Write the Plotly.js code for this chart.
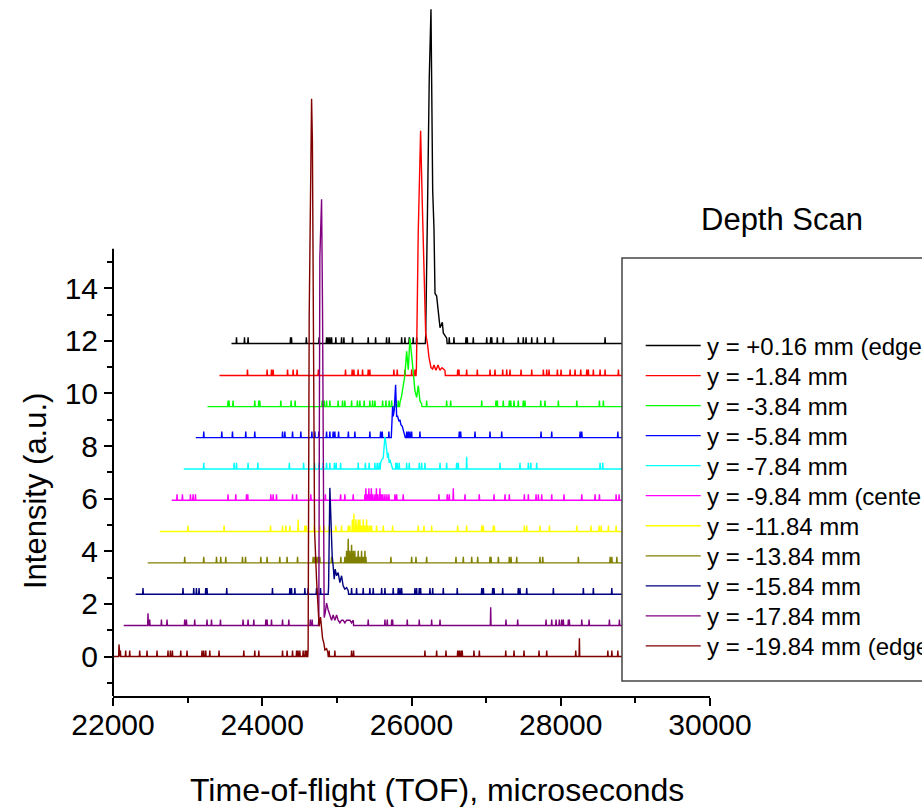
<!DOCTYPE html>
<html>
<head>
<meta charset="utf-8">
<script src="https://cdn.plot.ly/plotly-3.0.1.min.js"></script>
<style>html,body{margin:0;padding:0;background:#fff;}#chart{width:922px;height:807px;}</style>
</head>
<body>
<div id="chart"></div>
<script>
// ---------------- DATA ----------------
const labels = ["y = +0.16 mm (edge)", "y = -1.84 mm", "y = -3.84 mm", "y = -5.84 mm", "y = -7.84 mm",
  "y = -9.84 mm (center)", "y = -11.84 mm", "y = -13.84 mm", "y = -15.84 mm", "y = -17.84 mm", "y = -19.84 mm (edge)"];
// waterfall offsets (intensity units) and first TOF of each shifted spectrum
const yOffset = [11.9, 10.68, 9.5, 8.32, 7.13, 5.94, 4.75, 3.56, 2.37, 1.18, 0];
const startTOF = [23588, 23427, 23266, 23109, 22948, 22787, 22626, 22465, 22304, 22143, 22010];
const endTOF = 29300;
const oneCount = 0.23;

// single-count background events (TOF, microseconds, as plotted); repeats = more counts
const noise_p016 = [23655, 23762, 23810, 24379, 24392, 24591, 24762, 24862, 24883, 24906, 24929, 24986, 25063, 25094, 25210, 25420, 25519, 25666, 25701, 25868, 25912, 25970, 26023, 26069, 26506, 26569, 26730, 26747, 26828, 27008, 27061, 27075, 27150, 27230, 27431, 27498, 27535, 27611, 27686, 27789, 27901, 28594];
const noise_m184 = [23802, 24065, 24124, 24146, 24339, 24414, 24467, 24752, 25116, 25205, 25228, 25285, 25344, 25420, 25442, 25764, 25809, 25912, 26002, 26046, 26619, 26636, 26739, 26882, 27052, 27119, 27222, 27276, 27320, 27468, 27611, 27767, 27812, 27843, 27955, 28004, 28125, 28192, 28268, 28349, 28370, 28437, 28527, 28594, 28773];
const noise_m384 = [23542, 23555, 23609, 23900, 23954, 23967, 24249, 24387, 24441, 24803, 24830, 24862, 24906, 25017, 25076, 25107, 25197, 25275, 25308, 25366, 25442, 25479, 25510, 25613, 25657, 25701, 25734, 25778, 25822, 26203, 26471, 26525, 26941, 27132, 27150, 27230, 27311, 27330, 27374, 27431, 27498, 27521, 27732, 27789, 27968, 28215, 28518, 28571];
const noise_m584 = [23216, 23458, 23601, 23779, 23900, 24272, 24303, 24406, 24517, 24665, 24705, 24758, 24862, 24906, 24950, 24973, 25023, 25154, 25241, 25442, 25586, 25608, 25697, 25935, 25957, 25979, 26002, 26113, 26640, 26659, 26851, 27052, 27209, 27736, 27879, 28259, 28282, 28765];
const noise_m784 = [23216, 23623, 23655, 23810, 23941, 24363, 24554, 24701, 24761, 24816, 24862, 24906, 24967, 24991, 25050, 25286, 25382, 25433, 25510, 25540, 25567, 25791, 25809, 25836, 25935, 25970, 26104, 26136, 26180, 26382, 26471, 26605, 26627, 26739, 26739, 27186, 27454, 27566, 27598, 27678, 28527, 28563];
const noise_m984 = [22858, 22930, 23038, 23073, 23105, 23542, 23645, 23789, 23806, 24115, 24146, 24191, 24406, 24460, 24651, 24846, 25050, 25107, 25219,
  25376, 25389, 25389, 25409, 25429, 25429, 25442, 25462, 25462, 25483, 25510, 25530, 25530, 25550, 25577, 25577, 25597, 25617, 25644, 25671, 25698,
  25778, 25801, 25889, 26368, 26479, 26506, 26560, 26560, 26717, 26908, 27106, 27253, 27311, 27512, 27566, 27669, 27700, 27745, 27879, 28044, 28282, 28460, 28518, 28742, 28782];
const noise_m1184 = [23006, 23489, 24111, 24272, 24316, 24370, 24481, 24481, 24571, 24591, 24698, 24772, 24832, 24897, 24986, 25063,
  25152, 25174, 25208, 25208, 25228, 25228, 25228, 25255, 25255, 25268, 25286, 25286, 25308, 25308, 25329, 25353, 25353, 25376, 25398, 25398, 25416, 25442, 25465,
  25532, 25621, 25747, 26091, 26167, 26270, 26619, 26739, 26941, 26963, 27096, 27110, 27512, 27544, 27722, 27848, 28215, 28406, 28514, 28541, 28639, 28742];
const noise_m1384 = [22961, 23216, 23387, 23444, 23511, 23735, 23776, 23981, 24065, 24235, 24333, 24473, 24682, 24705, 24728, 24750, 24772, 24929, 25053,
  25107, 25130, 25130, 25152, 25152, 25152, 25152, 25174, 25174, 25197, 25197, 25197, 25219, 25219, 25241, 25241, 25264,
  25286, 25286, 25308, 25331, 25331, 25353, 25376, 25376, 25389,
  25724, 26002, 26060, 26203, 26596, 26694, 26807, 26887, 27052, 27066, 27164, 27311, 27334, 27410, 27722, 27759, 28236, 28662, 28685, 28752];
const noise_m1584 = [22402, 22938, 23082, 23118, 23153, 23243, 23260, 23524, 24137, 24370, 24392, 24437, 24571, 24615, 24727, 24781, 25197, 25264, 25353, 25442, 25487, 25600, 25644, 25755, 25822, 25845, 25868, 26046, 26069, 26104, 26122, 26247, 26284, 26426, 26613, 26941, 26963, 27088, 27106, 27222, 27431, 27454, 27544, 27901, 28303, 28437, 28684];
const noise_m1784 = [22469, 22469, 22480, 22492, 22649, 22724, 22961, 22984, 23095, 23260, 23320, 23440, 23743, 23810, 23887, 24048, 24065, 24124, 24272, 24356, 24644, 24669, 25420, 25644, 25675, 25734, 25747, 25943, 26104, 26270, 26382, 27061, 27061, 27061, 27266, 27423, 27803, 27879, 27937, 27981, 28013, 28035, 28102, 28115, 28282, 28380, 28652, 28786];
const noise_m1984 = [22080, 22080, 22099, 22170, 22224, 22358, 22456, 22590, 22737, 22769, 22796, 22908, 22992, 23193, 23216, 23243, 23297, 23421, 23753, 23900, 23954, 24272, 24333, 24406, 24460, 24481, 24504, 24548, 24575, 24594, 24897, 24973, 25197, 25224, 26180, 26337, 26462, 26619, 26640, 26663, 26680, 26837, 26909, 27263, 27374, 27508, 27709, 27812, 28201, 28250, 28250, 28250, 28631, 28685, 28765];

// main peak profiles: TOF (as plotted) and intensity above each trace's baseline
const peakTOF_p016 = [26190, 26214, 26225, 26238, 26261, 26284, 26301, 26315, 26337, 26359, 26382, 26413, 26426, 26449, 26472];
const peakInt_p016 = [0.3, 5.0, 8.6, 10.1, 12.7, 5.8, 4.4, 1.9, 1.8, 1.2, 0.6, 0.8, 0.4, 0.3, 0.2];
const peakTOF_m184 = [26066, 26090, 26106, 26122, 26144, 26167, 26190, 26214, 26234, 26261, 26284, 26301, 26328, 26355, 26381, 26408, 26448];
const peakInt_m184 = [0.3, 5.4, 7.5, 9.3, 6.6, 3.6, 1.6, 1.2, 0.7, 0.3, 0.25, 0.4, 0.2, 0.4, 0.2, 0.3, 0.2];
const peakTOF_m384 = [25845, 25867, 25889, 25912, 25935, 25957, 25979, 26002, 26024, 26046, 26069, 26091, 26113, 26136];
const peakInt_m384 = [0.15, 0.4, 0.8, 1.2, 2.1, 1.4, 2.6, 2.05, 1.3, 0.6, 0.35, 0.8, 0.22, 0.1];
const peakTOF_m584 = [25734, 25747, 25755, 25769, 25787, 25801, 25814, 25832, 25845, 25858, 25876, 25889, 25912];
const peakInt_m584 = [0.68, 1.19, 0.81, 1.06, 2.01, 0.81, 0.81, 0.62, 0.68, 0.49, 0.43, 0.3, 0.11];
const peakTOF_m784 = [25586, 25600, 25621, 25634, 25644, 25657, 25667, 25680, 25688, 25701, 25711, 25724, 25742];
const peakInt_m784 = [0.23, 0.35, 0.42, 0.86, 1.22, 0.99, 0.61, 0.42, 0.61, 0.23, 0.35, 0.23, 0.1];
const peakTOF_m984 = [];
const peakInt_m984 = [];
const peakTOF_m1184 = [];
const peakInt_m1184 = [];
const peakTOF_m1384 = [];
const peakInt_m1384 = [];
const peakTOF_m1584 = [24889, 24906, 24920, 24937, 24950, 24964, 24977, 24996, 25017, 25040, 25063, 25084, 25107, 25130, 25152];
const peakInt_m1584 = [0.3, 4.04, 2.47, 1.46, 1.08, 0.57, 0.95, 0.7, 0.82, 0.44, 0.7, 0.32, 0.19, 0.25, 0.13];
const peakTOF_m1784 = [24758, 24772, 24795, 24808, 24821, 24830, 24845, 24862, 24883, 24906, 24929, 24950, 24973, 24996, 25017, 25040, 25063, 25084, 25107, 25130, 25152, 25174, 25197, 25219];
const peakInt_m1784 = [0.3, 14.0, 16.2, 11.9, 3.0, 0.3, 0.5, 0.85, 0.6, 0.4, 0.2, 0.4, 0.2, 0.4, 0.2, 0.1, 0.2, 0.2, 0.1, 0.2, 0.2, 0.2, 0.1, 0.2];
const peakTOF_m1984 = [24615, 24629, 24642, 24661, 24672, 24685, 24701, 24728, 24750, 24762, 24781, 24795, 24808, 24826, 24839, 24862, 24879];
const peakInt_m1984 = [0.3, 12.9, 17.8, 21.2, 19.6, 10.0, 4.8, 2.9, 1.5, 1.15, 1.5, 0.9, 0.7, 0.5, 0.25, 0.3, 0.15];

const xTicks = [22000, 24000, 26000, 28000, 30000];
const xMinorTicks = [23000, 25000, 27000, 29000];
const yTicks = [0, 2, 4, 6, 8, 10, 12, 14];
const yMinorTicks = [-1, 1, 3, 5, 7, 9, 11, 13, 15];

// ---------------- STYLE ----------------
const colors = ["#000000", "#FF0000", "#00FF00", "#0000FF", "#00FFFF", "#FF00FF", "#FFFF00", "#808000", "#000080", "#800080", "#800000"];
const FONT = 'Arial, "Liberation Sans", sans-serif';

const noiseSets = [noise_p016, noise_m184, noise_m384, noise_m584, noise_m784, noise_m984, noise_m1184, noise_m1384, noise_m1584, noise_m1784, noise_m1984];
const peakTOFs = [peakTOF_p016, peakTOF_m184, peakTOF_m384, peakTOF_m584, peakTOF_m784, peakTOF_m984, peakTOF_m1184, peakTOF_m1384, peakTOF_m1584, peakTOF_m1784, peakTOF_m1984];
const peakInts = [peakInt_p016, peakInt_m184, peakInt_m384, peakInt_m584, peakInt_m784, peakInt_m984, peakInt_m1184, peakInt_m1384, peakInt_m1584, peakInt_m1784, peakInt_m1984];

const HALF = 5; // half width of one TOF bin, microseconds

function buildSeries(k) {
  const pkT = peakTOFs[k], pkI = peakInts[k], off = yOffset[k];
  const lo = pkT.length ? pkT[0] : Infinity, hi = pkT.length ? pkT[pkT.length - 1] : -Infinity;
  const counts = new Map();
  noiseSets[k].forEach(t => {
    if (t < lo - 10 || t > hi + 10) counts.set(t, (counts.get(t) || 0) + 1);
  });
  const segs = [];
  counts.forEach((c, t) => segs.push({ s: t - HALF, pts: [[t - HALF, 0], [t, c * oneCount], [t + HALF, 0]] }));
  if (pkT.length) {
    const pts = [[pkT[0] - HALF, 0]];
    pkT.forEach((t, i) => pts.push([t, pkI[i]]));
    pts.push([pkT[pkT.length - 1] + HALF, 0]);
    segs.push({ s: pkT[0] - HALF, pts });
  }
  segs.sort((a, b) => a.s - b.s);
  const x = [startTOF[k]], y = [off];
  segs.forEach(sg => sg.pts.forEach(p => { x.push(p[0]); y.push(off + p[1]); }));
  x.push(endTOF); y.push(off);
  return { x, y };
}

const traces = labels.map((name, k) => {
  const d = buildSeries(k);
  return { type: 'scatter', mode: 'lines', name, x: d.x, y: d.y,
    line: { color: colors[k], width: 1.4 }, showlegend: false, hoverinfo: 'skip' };
});

// pixel helpers for the decorations (plot area: x 113..710, y 0..696)
const L = 113, W = 597, H = 696;
const px = v => (v - L) / W;
const py = v => (H - v) / H;

const shapes = [
  { type: 'line', xref: 'paper', yref: 'y', x0: 0, x1: 0, y0: -1.5, y1: 15.5, line: { color: '#000', width: 2 } },
  { type: 'rect', xref: 'paper', yref: 'paper', x0: px(622), x1: px(940), y0: py(681), y1: py(258),
    fillcolor: '#ffffff', line: { color: '#444444', width: 1.5 }, layer: 'above' }
];
const annotations = [
  { xref: 'paper', yref: 'paper', x: px(782), y: py(219), text: 'Depth Scan', showarrow: false,
    xanchor: 'center', yanchor: 'middle', font: { family: FONT, size: 31, color: '#000' } },
  { xref: 'paper', yref: 'paper', x: px(35), y: py(491), text: 'Intensity (a.u.)', showarrow: false, textangle: -90,
    xanchor: 'center', yanchor: 'middle', font: { family: FONT, size: 31, color: '#000' } },
  { xref: 'paper', yref: 'paper', x: px(437), y: py(790), text: 'Time-of-flight (TOF), microseconds', showarrow: false,
    xanchor: 'center', yanchor: 'middle', font: { family: FONT, size: 32, color: '#000' } }
];
labels.forEach((name, k) => {
  const yy = 345.5 + 30.04 * k;
  shapes.push({ type: 'line', xref: 'paper', yref: 'paper', x0: px(645.7), x1: px(700.7), y0: py(yy), y1: py(yy),
    line: { color: colors[k], width: 1.3 }, layer: 'above' });
  annotations.push({ xref: 'paper', yref: 'paper', x: px(705), y: py(yy + 1), text: name, showarrow: false,
    xanchor: 'left', yanchor: 'middle', font: { family: FONT, size: 24, color: '#000' } });
});

const layout = {
  width: 922, height: 807,
  margin: { l: L, r: 922 - L - W, t: 0, b: 807 - H },
  paper_bgcolor: '#fff', plot_bgcolor: '#fff',
  font: { family: FONT, color: '#000' },
  showlegend: false,
  xaxis: {
    range: [22000, 30000], tickmode: 'array', tickvals: xTicks, tickformat: 'd',
    ticks: 'outside', ticklen: 8, tickwidth: 2, tickcolor: '#000', ticklabelstandoff: -7,
    minor: { tickmode: 'array', tickvals: xMinorTicks, ticks: 'outside', ticklen: 5, tickwidth: 2, tickcolor: '#000' },
    showline: true, linewidth: 2, linecolor: '#000', showgrid: false, zeroline: false,
    tickfont: { family: FONT, size: 30, color: '#000' }
  },
  yaxis: {
    range: [-1.5, -1.5 + H / 26.31], tickmode: 'array', tickvals: yTicks,
    ticks: 'outside', ticklen: 8, tickwidth: 2, tickcolor: '#000',
    minor: { tickmode: 'array', tickvals: yMinorTicks, ticks: 'outside', ticklen: 5, tickwidth: 2, tickcolor: '#000' },
    showline: false, showgrid: false, zeroline: false,
    tickfont: { family: FONT, size: 30, color: '#000' }
  },
  shapes, annotations
};

Plotly.newPlot('chart', traces, layout, { displayModeBar: false, staticPlot: true });
</script>
</body>
</html>
